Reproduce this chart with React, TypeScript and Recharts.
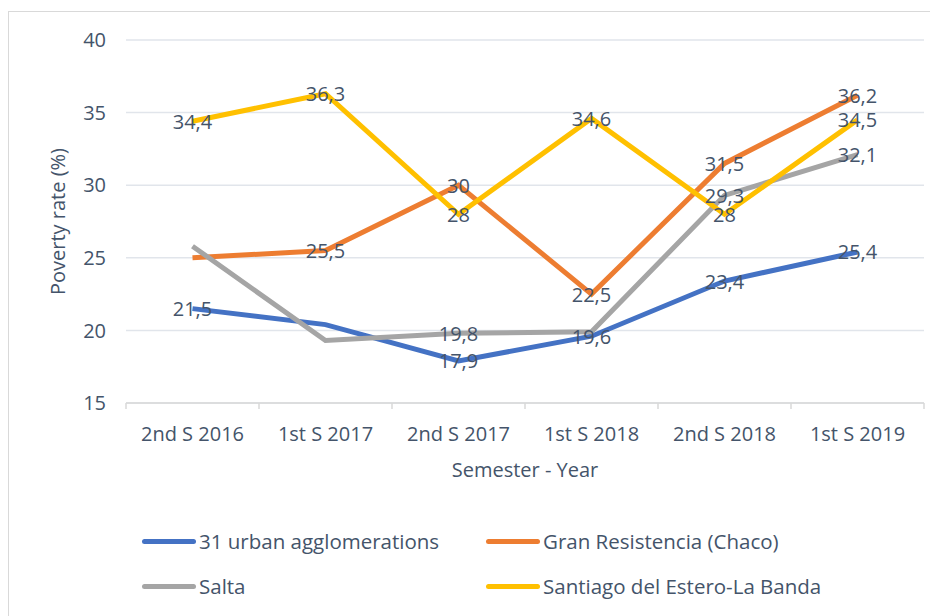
import { LineChart, Line, XAxis, YAxis, CartesianGrid, LabelList } from "recharts";

const semesters = ["2nd S 2016", "1st S 2017", "2nd S 2017", "1st S 2018", "2nd S 2018", "1st S 2019"];
const urban = [21.5, 20.4, 17.9, 19.6, 23.4, 25.4];
const chaco = [25.0, 25.5, 30, 22.5, 31.5, 36.2];
const salta = [25.8, 19.3, 19.8, 19.9, 29.3, 32.1];
const santiago = [34.4, 36.3, 28, 34.6, 28, 34.5];

// which points carry a data label in the original
const urbanLabels = [true, false, true, true, true, true];
const chacoLabels = [false, true, true, true, true, true];
const saltaLabels = [false, false, true, false, true, true];
const santiagoLabels = [true, true, true, true, true, true];

const yTicks = [15, 20, 25, 30, 35, 40];

const series = [
  { key: "urban", name: "31 urban agglomerations", color: "#4472C4", labels: urbanLabels },
  { key: "chaco", name: "Gran Resistencia (Chaco)", color: "#ED7D31", labels: chacoLabels },
  { key: "salta", name: "Salta", color: "#A5A5A5", labels: saltaLabels },
  { key: "santiago", name: "Santiago del Estero-La Banda", color: "#FFC000", labels: santiagoLabels },
];

const data = semesters.map((s, i) => ({
  semester: s,
  urban: urban[i],
  chaco: chaco[i],
  salta: salta[i],
  santiago: santiago[i],
}));

const FONT = "'Open Sans', sans-serif";
const TEXT = "#44546A";
const FS = 20;

const CHART_W = 928;
const Y_AXIS_W = 117;
const RIGHT = 13;
const HALF_BAND = (CHART_W - Y_AXIS_W - RIGHT) / semesters.length / 2;

const makeLabel = (mask: boolean[]) => (props: any) => {
  const { x, y, value, index } = props;
  if (!mask[index]) return null;
  return (
    <text x={x} y={y} textAnchor="middle" dominantBaseline="central" fontFamily={FONT} fontSize={FS} fill={TEXT}>
      {String(value).replace(".", ",")}
    </text>
  );
};

// category tick: label centred, tick marks sit between categories (Excel style)
function CatTick(props: any) {
  const { x, y, payload, index } = props;
  const axisY = y - 6;
  return (
    <g>
      <line x1={x - HALF_BAND} x2={x - HALF_BAND} y1={axisY} y2={axisY + 6} stroke="#D9D9D9" strokeWidth={1.5} />
      {index === semesters.length - 1 && (
        <line x1={x + HALF_BAND} x2={x + HALF_BAND} y1={axisY} y2={axisY + 6} stroke="#D9D9D9" strokeWidth={1.5} />
      )}
      <text x={x} y={axisY + 30} textAnchor="middle" dominantBaseline="central" fontFamily={FONT} fontSize={FS} fill={TEXT}>
        {payload.value}
      </text>
    </g>
  );
}

function LegendBox() {
  const cols = [133, 477];
  return (
    <div style={{ position: "absolute", left: 0, top: 515, width: 900, height: 80, fontFamily: FONT, fontSize: 20.5, color: TEXT }}>
      {series.map((s, i) => (
        <div
          key={s.key}
          style={{
            position: "absolute",
            left: cols[i % 2],
            top: Math.floor(i / 2) * 45,
            display: "flex",
            alignItems: "center",
            whiteSpace: "nowrap",
          }}
        >
          <span style={{ display: "inline-block", width: 54, height: 5, borderRadius: 3, background: s.color, marginRight: 3 }} />
          <span>{s.name}</span>
        </div>
      ))}
    </div>
  );
}

export default function App() {
  return (
    <div style={{ width: 940, height: 610, border: "1px solid #D9D9D9", boxSizing: "border-box", marginTop: 3, position: "relative" }}>
      <LineChart width={CHART_W} height={600} data={data} margin={{ top: 28, right: RIGHT, left: 0, bottom: 179 }}>
        <CartesianGrid vertical={false} stroke="#E1E5EB" strokeWidth={1.5} />
        <XAxis
          dataKey="semester"
          height={30}
          padding={{ left: HALF_BAND, right: HALF_BAND }}
          axisLine={{ stroke: "#D9D9D9", strokeWidth: 1.5 }}
          tickLine={false}
          tickSize={6}
          tickMargin={0}
          interval={0}
          tick={<CatTick />}
          label={{ value: "Semester - Year", position: "bottom", offset: 30, fill: TEXT, fontSize: FS, fontFamily: FONT }}
        />
        <YAxis
          width={Y_AXIS_W}
          domain={[15, 40]}
          ticks={yTicks}
          axisLine={false}
          tickLine={false}
          tick={{ fill: TEXT, fontSize: FS, fontFamily: FONT }}
          dx={-12}
          label={{ value: "Poverty rate (%)", angle: -90, position: "insideLeft", offset: 49, fill: TEXT, fontSize: FS, fontFamily: FONT, style: { textAnchor: "middle" } }}
        />
        {series.map((s) => (
          <Line
            key={s.key}
            dataKey={s.key}
            name={s.name}
            stroke={s.color}
            strokeWidth={5}
            dot={false}
            activeDot={false}
            isAnimationActive={false}
          >
            <LabelList dataKey={s.key} content={makeLabel(s.labels)} />
          </Line>
        ))}
      </LineChart>
      <LegendBox />
    </div>
  );
}
